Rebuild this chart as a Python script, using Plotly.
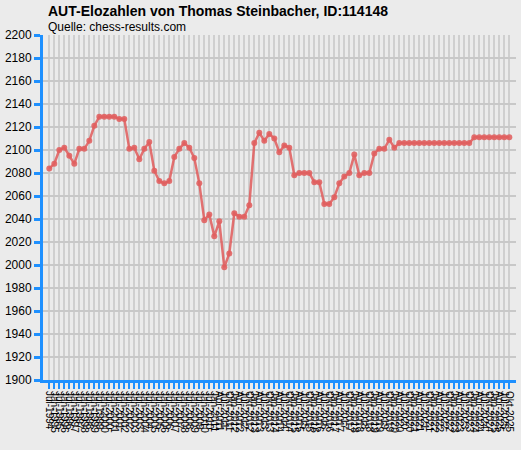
import plotly.graph_objects as go

# Rating list dates (tick labels)
dates = [
    "Jul-1994", "Jan-1995", "Jul-1995", "Jan-1996", "Jul-1996", "Jan-1997", "Jul-1997",
    "Jan-1998", "Jul-1998", "Jan-1999", "Jul-1999", "Jan-2000", "Jul-2000", "Jan-2001",
    "Jul-2001", "Jan-2002", "Jul-2002", "Jan-2003", "Jul-2003", "Jan-2004", "Jul-2004",
    "Jan-2005", "Jul-2005", "Jan-2006", "Jul-2006", "Jan-2007", "Jul-2007", "Jan-2008",
    "Jul-2008", "Jan-2009", "Jul-2009", "Jan-2010", "Jul-2010", "Jan-2011",
    "Apr-2011", "Jul-2011", "Okt-2011",
    "Jan-2012", "Apr-2012", "Jul-2012", "Okt-2012",
    "Jan-2013", "Apr-2013", "Jul-2013", "Okt-2013",
    "Jan-2014", "Apr-2014", "Jul-2014", "Okt-2014",
    "Jan-2015", "Apr-2015", "Jul-2015", "Okt-2015",
    "Jan-2016", "Apr-2016", "Jul-2016", "Okt-2016",
    "Jan-2017", "Apr-2017", "Jul-2017", "Okt-2017",
    "Jan-2018", "Apr-2018", "Jul-2018", "Okt-2018",
    "Jan-2019", "Apr-2019", "Jul-2019", "Okt-2019",
    "Jan-2020", "Apr-2020", "Jul-2020", "Okt-2020",
    "Jan-2021", "Apr-2021", "Jul-2021", "Okt-2021",
    "Jan-2022", "Apr-2022", "Jul-2022", "Okt-2022",
    "Jan-2023", "Apr-2023", "Jul-2023", "Okt-2023",
    "Jan-2024", "Apr-2024", "Jul-2024", "Okt-2024",
    "Jan-2025", "Apr-2025", "Jul-2025", "Okt-2025",
]

# Elo values
elo = [
    2084, 2088, 2100, 2102, 2095, 2088, 2101, 2101, 2108, 2121,
    2129, 2129, 2129, 2129, 2127, 2127, 2101, 2102, 2092, 2101,
    2107, 2082, 2073, 2071, 2073, 2094, 2101, 2106, 2102, 2093,
    2071, 2039, 2044, 2025, 2038, 1998, 2010, 2045, 2042, 2042,
    2052, 2106, 2115, 2108, 2114, 2110, 2098, 2104, 2102, 2078,
    2080, 2080, 2080, 2072, 2072, 2053, 2053, 2059, 2071, 2077,
    2080, 2096, 2078, 2080, 2080, 2097, 2101, 2101, 2109, 2102,
    2106, 2106, 2106, 2106, 2106, 2106, 2106, 2106, 2106, 2106,
    2106, 2106, 2106, 2106, 2106,
    2111, 2111, 2111, 2111, 2111, 2111, 2111, 2111,
]

blue = "#1E90FF"
bg = "#EBEBEB"

fig = go.Figure()
fig.add_trace(go.Scatter(
    x=list(range(len(elo))), y=elo, mode="lines+markers",
    line=dict(color="rgba(224,95,95,0.88)", width=2.5),
    marker=dict(color="rgba(224,95,95,0.88)", size=6),
    showlegend=False, hoverinfo="skip",
))

fig.update_layout(
    width=521, height=450,
    margin=dict(l=43, r=5, t=35, b=70),
    paper_bgcolor=bg, plot_bgcolor=bg,
    font=dict(family="Liberation Sans, Arial, sans-serif", color="black"),
    annotations=[
        dict(text="<b>AUT-Elozahlen von Thomas Steinbacher, ID:114148</b>",
             xref="paper", yref="paper", x=0, y=1, xanchor="left", yanchor="middle",
             xshift=3, yshift=24, showarrow=False, font=dict(size=14)),
        dict(text="Quelle: chess-results.com",
             xref="paper", yref="paper", x=0, y=1, xanchor="left", yanchor="middle",
             xshift=3, yshift=8, showarrow=False, font=dict(size=12)),
    ],
)

fig.update_xaxes(
    range=[-1.26, 93.34], tickmode="array", automargin=False,
    tickvals=list(range(len(dates))), ticktext=dates, tickangle=90,
    tickfont=dict(size=10), ticks="outside", ticklen=6, tickwidth=2, tickcolor=blue,
    showline=True, linecolor=blue, linewidth=3,
    showgrid=True, gridcolor="#CFCFCF", gridwidth=1.5, zeroline=False,
)
fig.update_yaxes(
    range=[1900, 2200], dtick=20, tickfont=dict(size=12), automargin=False,
    ticks="outside", ticklen=6, tickwidth=3, tickcolor=blue,
    showline=True, linecolor=blue, linewidth=3,
    showgrid=True, gridcolor="#C8C8C8", gridwidth=1.5, zeroline=False,
)

# drop the default page margin so the figure sits at the window's corner
fig.write_html("out.html", config={"displayModeBar": False},
               post_script="document.body.style.margin='0';"
                           "document.body.style.background='#EBEBEB';")
